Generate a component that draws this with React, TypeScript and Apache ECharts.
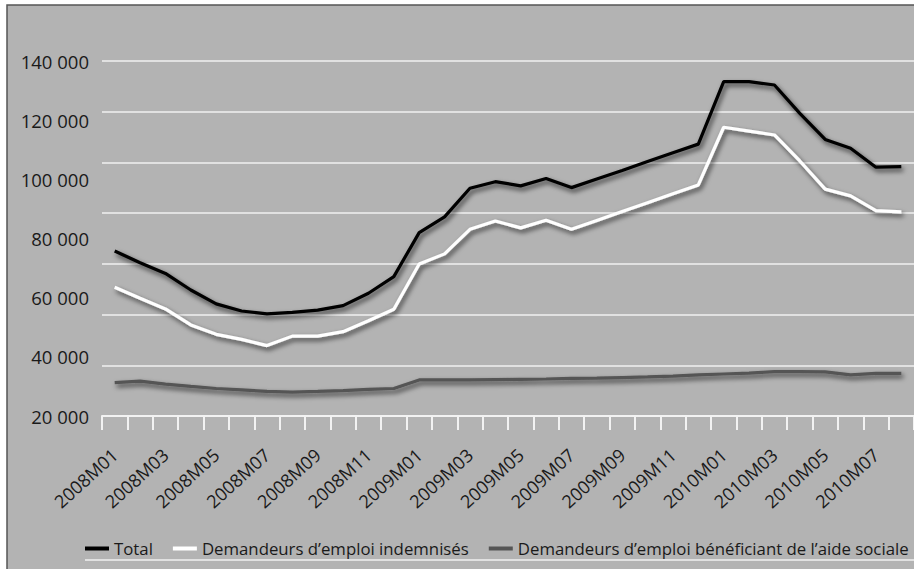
import React, { useEffect, useRef } from "react";
import * as echarts from "echarts";

const categories = [
  "2008M01","2008M02","2008M03","2008M04","2008M05","2008M06","2008M07","2008M08",
  "2008M09","2008M10","2008M11","2008M12","2009M01","2009M02","2009M03","2009M04",
  "2009M05","2009M06","2009M07","2009M08","2009M09","2009M10","2009M11","2009M12",
  "2010M01","2010M02","2010M03","2010M04","2010M05","2010M06","2010M07","2010M08",
];

const total = [
  75800, 71800, 68200, 62600, 57900, 55500, 54500, 55000,
  55800, 57300, 61500, 67100, 82000, 87300, 97000, 99200,
  97800, 100300, 97200, 100100, 103000, 106000, 109000, 111900,
  133000, 133000, 131900, 122300, 113500, 110500, 104100, 104300,
];

const indemnises = [
  63500, 59800, 56200, 50800, 47600, 45900, 43800, 47000,
  47000, 48500, 52200, 56100, 71400, 74800, 83100, 85900,
  83600, 86200, 83100, 86100, 89100, 92100, 95100, 98100,
  117600, 116300, 115000, 106200, 96700, 94400, 89400, 89000,
];

const aideSociale = [
  31300, 31800, 30800, 30000, 29300, 28800, 28300, 28100,
  28300, 28600, 29000, 29300, 32200, 32200, 32200, 32300,
  32400, 32500, 32700, 32800, 33000, 33200, 33500, 33900,
  34200, 34500, 35000, 35000, 34900, 33900, 34400, 34400,
];

const seriesNames = [
  "Total",
  "Demandeurs d\u2019emploi indemnisés",
  "Demandeurs d\u2019emploi bénéficiant de l\u2019aide sociale",
];

const yMin = 20000;
const yMax = 140000;
const yStep = 20000;

const FONT = "Open Sans";

export default function App() {
  const ref = useRef<HTMLDivElement>(null);

  useEffect(() => {
    if (!ref.current) return;
    const chart = echarts.init(ref.current, null, { renderer: "svg" });
    const shadow = {
      shadowColor: "rgba(0,0,0,0.7)",
      shadowBlur: 5,
      shadowOffsetX: 2,
      shadowOffsetY: 3,
    };
    const mkSeries = (name: string, data: number[], color: string) => ({
      name,
      type: "line",
      data,
      yAxisIndex: 0,
      symbol: "none",
      color,
      itemStyle: { color },
      lineStyle: { color, width: 3.2, ...shadow },
      z: 3,
    });
    chart.setOption({
      animation: false,
      backgroundColor: "#ffffff",
      textStyle: { fontFamily: FONT },
      graphic: [
        {
          type: "rect",
          z: -10,
          shape: { x: 7, y: 5, width: 930, height: 600 },
          style: { fill: "#b3b3b3", stroke: "#555555", lineWidth: 1.5 },
        },
        {
          type: "line",
          z: 5,
          shape: { x1: 85, y1: 560, x2: 914, y2: 560 },
          style: { stroke: "#f0f0f0", lineWidth: 1.5 },
        },
      ],
      grid: { left: 102, top: 61, width: 813, height: 355, containLabel: false },
      legend: {
        left: 85,
        top: 540,
        padding: 0,
        icon: "rect",
        itemWidth: 24,
        itemHeight: 4,
        itemGap: 20,
        textStyle: { fontSize: 16.8, color: "#1a1a1a", fontFamily: FONT, padding: [0, 0, 0, 0] },
        data: seriesNames,
      },
      xAxis: {
        type: "category",
        data: categories,
        boundaryGap: true,
        axisLine: { show: true, lineStyle: { color: "#f2f2f2", width: 2 } },
        axisTick: { show: true, interval: 0, length: 14, lineStyle: { color: "#f2f2f2", width: 2 } },
        axisLabel: {
          interval: 1,
          rotate: 42,
          margin: 36,
          fontSize: 18,
          color: "#1a1a1a",
          fontFamily: FONT,
        },
        splitLine: { show: false },
      },
      yAxis: [
        {
          type: "value",
          min: yMin,
          max: yMax,
          interval: yStep,
          axisLine: { show: false },
          axisTick: { show: false },
          splitLine: { show: false },
          axisLabel: {
            margin: 13,
            fontSize: 18.5,
            color: "#1a1a1a",
            fontFamily: FONT,
            formatter: (v: number) => (v / 1000).toString() + " 000",
          },
        },
        {
          type: "value",
          position: "left",
          min: 0,
          max: 7,
          interval: 1,
          axisLine: { show: false },
          axisTick: { show: false },
          axisLabel: { show: false },
          splitLine: { show: true, lineStyle: { color: "#f0f0f0", width: 1.6 } },
        },
      ],
      series: [
        mkSeries(seriesNames[0], total, "#000000"),
        mkSeries(seriesNames[1], indemnises, "#ffffff"),
        mkSeries(seriesNames[2], aideSociale, "#555555"),
      ],
    });
    return () => chart.dispose();
  }, []);

  return (
    <div
      ref={ref}
      style={{ position: "absolute", left: 0, top: 0, width: 914, height: 569 }}
    />
  );
}
